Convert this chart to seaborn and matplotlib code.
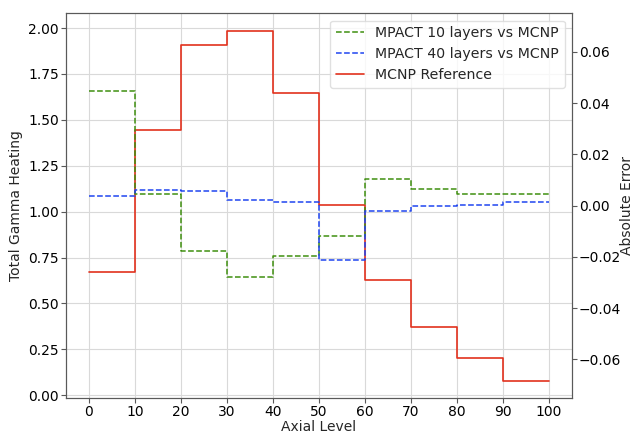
import numpy as np
import matplotlib
matplotlib.use("Agg")
import matplotlib.pyplot as plt
import seaborn as sns

# --- data --- #
axial_edges = [0, 10, 20, 30, 40, 50, 60, 70, 80, 90, 100]
mcnp_ref = [0.672, 1.445, 1.910, 1.984, 1.648, 1.036, 0.628, 0.372, 0.203, 0.078]
err_10_layers = [0.0449, 0.0047, -0.0177, -0.0280, -0.0195, -0.0118, 0.0105, 0.0065, 0.0047, 0.0046]
err_40_layers = [0.0039, 0.0061, 0.0057, 0.0022, 0.0013, -0.0211, -0.0019, 0.0000, 0.0004, 0.0016]

# --- style --- #
sns.set_style("whitegrid", {"axes.edgecolor": "0.35", "grid.color": "0.85",
                            "ytick.left": True, "ytick.right": True, "xtick.bottom": True})
plt.rcParams["font.family"] = ["DejaVu Sans"]
plt.rcParams["font.size"] = 10


def close_steps(vals):
    # repeat last value so the final step reaches the right edge
    return list(vals) + [vals[-1]]


fig, ax = plt.subplots(figsize=(6.34, 4.33), dpi=100)
fig.subplots_adjust(left=0.104, right=0.902, top=0.969, bottom=0.081)
ax2 = ax.twinx()

# red reference on the left axis
sns.lineplot(x=axial_edges, y=close_steps(mcnp_ref), ax=ax, color="#e2311d",
             linewidth=1.2, drawstyle="steps-post", label="MCNP Reference", legend=False)

# errors on the right axis
sns.lineplot(x=axial_edges, y=close_steps(err_10_layers), ax=ax2, color="#3f8f0f",
             linewidth=1.1, linestyle="--", drawstyle="steps-post",
             label="MPACT 10 layers vs MCNP", legend=False)
sns.lineplot(x=axial_edges, y=close_steps(err_40_layers), ax=ax2, color="#1f45f0",
             linewidth=1.1, linestyle="--", drawstyle="steps-post",
             label="MPACT 40 layers vs MCNP", legend=False)

ax.set_xticks(axial_edges)
ax.set_yticks([0.0, 0.25, 0.5, 0.75, 1.0, 1.25, 1.5, 1.75, 2.0])
ax.set_ylim(-0.015, 2.08)
ax.set_xlim(-5, 105)
ax.set_xlabel("Axial Level", fontsize=10, labelpad=1)
ax.set_ylabel("Total Gamma Heating", fontsize=10)
ax.tick_params(axis="both", labelsize=10, length=3.5, width=0.8, colors="0.35",
               labelcolor="black", pad=1.5)

ax2.set_ylim(-0.075, 0.075)
ax2.set_yticks([-0.06, -0.04, -0.02, 0.0, 0.02, 0.04, 0.06])
ax2.grid(False)
ax2.set_ylabel("Absolute Error", fontsize=10, labelpad=-0.5)
ax2.tick_params(axis="y", labelsize=10, length=3.5, width=0.8, colors="0.35",
                labelcolor="black", pad=1.5)
for sp in ax2.spines.values():
    sp.set_color("0.35")

h1, l1 = ax.get_legend_handles_labels()
h2, l2 = ax2.get_legend_handles_labels()
ax2.legend(h2 + h1, l2 + l1, loc="upper right", fontsize=10.2, frameon=True,
           edgecolor="0.85", framealpha=0.8)

fig.savefig("out.png", dpi=100)
